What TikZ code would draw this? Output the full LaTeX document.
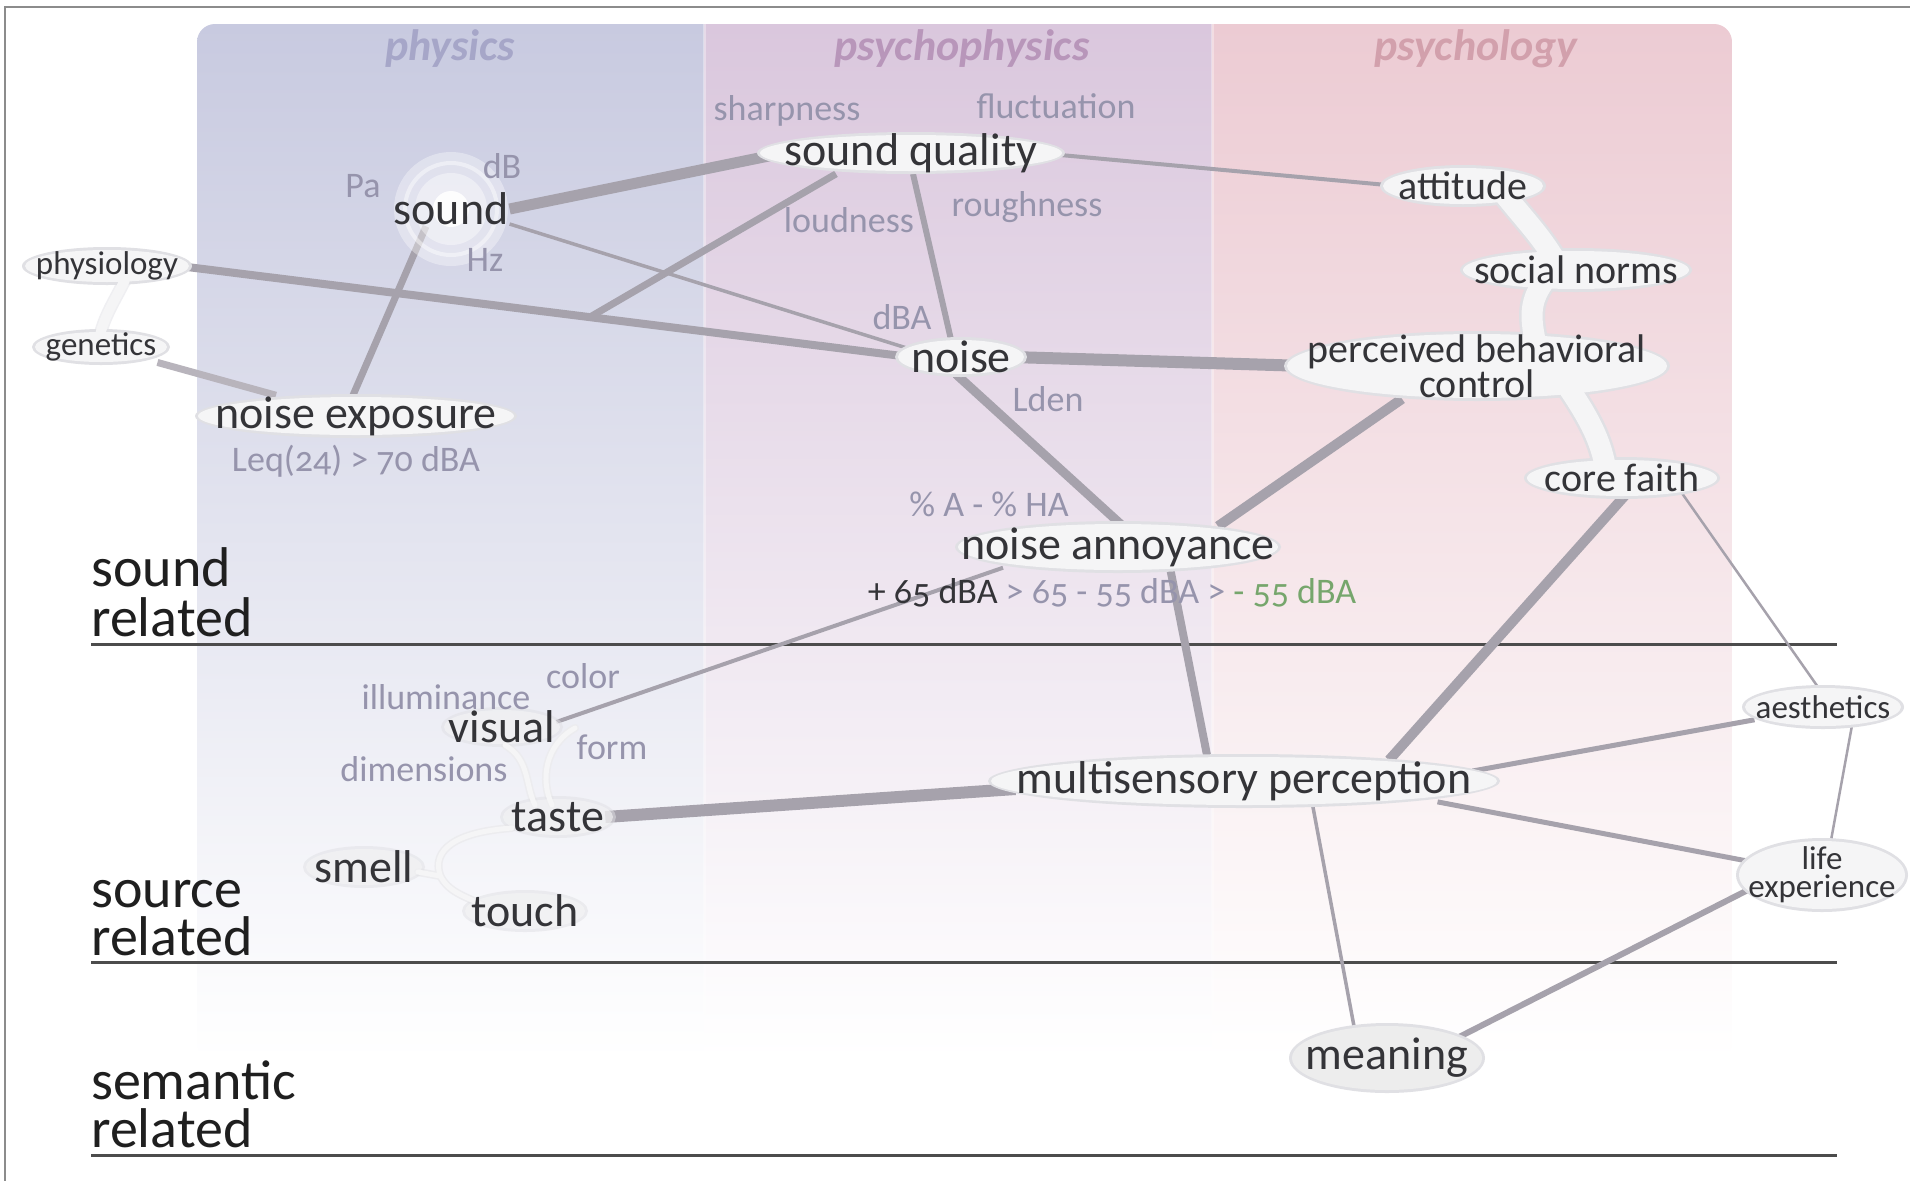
\documentclass[tikz,border=0pt]{standalone}
\usepackage{fontspec}
\setmainfont{Carlito}[Numbers=OldStyle]
\pgfdeclarelayer{bg}
\pgfdeclarelayer{edges}
\pgfdeclarelayer{bubbles}
\pgfsetlayers{bg,edges,bubbles,main}
\definecolor{txt}{RGB}{52,52,56}
\definecolor{labc}{RGB}{150,148,172}
\definecolor{edgec}{RGB}{166,162,172}
\definecolor{edgel}{RGB}{184,180,188}
\definecolor{bubf}{RGB}{245,245,246}
\definecolor{shad}{RGB}{224,224,228}
\definecolor{ttlA}{RGB}{166,166,200}
\definecolor{ttlB}{RGB}{184,150,186}
\definecolor{ttlC}{RGB}{210,160,172}
\definecolor{greenc}{RGB}{118,166,108}
\definecolor{phA}{RGB}{200,202,224}
\definecolor{phB}{RGB}{224,225,237}
\definecolor{ppA}{RGB}{218,199,221}
\definecolor{ppB}{RGB}{235,222,235}
\definecolor{psA}{RGB}{236,203,211}
\definecolor{psB}{RGB}{243,222,227}
\newcommand\myfs[2]{\fontsize{#1}{#2}\selectfont}
\newcommand\bubS[3]{\fill[shad] (#1.center) ellipse [x radius=#2pt+3pt, y radius=#3pt+3pt];}
\newcommand\bubF[3]{\fill[bubf] (#1.center) ellipse [x radius=#2pt, y radius=#3pt];}
\begin{document}
\begin{tikzpicture}[x=1pt,y=-1pt,
  big/.style={font=\myfs{46}{50}, text=txt, inner sep=1pt},
  mid/.style={font=\myfs{40}{30}, text=txt, inner sep=1pt},
  sml/.style={font=\myfs{33}{28}, text=txt, inner sep=1pt},
  lab/.style={font=\myfs{36}{40}, text=labc, inner sep=1pt},
  ttl/.style={font=\myfs{44}{48}\bfseries\itshape, inner sep=1pt},
  rowlab/.style={font=\myfs{56}{56}, text=black!88, anchor=base west, inner sep=0pt},
  link/.style={draw=edgec, line cap=butt},
  rulel/.style={draw=black!70, line width=3pt}]
\useasboundingbox (0,0) rectangle (1910,1181);
\begin{pgfonlayer}{bg}
  \fill[white] (0,0) rectangle (1910,1181);
  \draw[black!45, line width=2pt] (1910,7) -- (5,7) -- (5,1181);
  \begin{scope}
    \clip[rounded corners=18pt] (197,24) rectangle (1732,1060);
    \shade[top color=phA, middle color=phB, bottom color=white] (197,24) rectangle (704,1060);
    \shade[top color=ppA, middle color=ppB, bottom color=white] (704,24) rectangle (1212,1060);
    \shade[top color=psA, middle color=psB, bottom color=white] (1212,24) rectangle (1732,1060);
    \draw[white, opacity=.35, line width=3pt] (704,24) -- (704,1060);
    \draw[white, opacity=.35, line width=3pt] (1212,24) -- (1212,1060);
  \end{scope}
  \draw[rulel] (91,644) -- (1837,644);
  \draw[rulel] (91,962) -- (1837,962);
  \draw[rulel] (91,1155) -- (1837,1155);
\end{pgfonlayer}

% titles
\node[ttl, text=ttlA] (t1) at (450,49) {physics};
\node[ttl, text=ttlB] (t2) at (962,49) {psychophysics};
\node[ttl, text=ttlC] (t3) at (1476,49) {psychology};

% row labels
\node[rowlab] (r1a) at (91,586) {sound};
\node[rowlab] (r1b) at (91,636) {related};
\node[rowlab] (r2a) at (91,907) {source};
\node[rowlab] (r2b) at (91,955) {related};
\node[rowlab] (r3a) at (91,1099) {semantic};
\node[rowlab] (r3b) at (91,1147) {related};

% nodes
\node[big] (snd) at (451,209) {sound};
\node[lab] (pa) at (363,186) {Pa};
\node[lab] (db) at (502,166) {dB};
\node[lab] (hz) at (485,260) {Hz};
\node[big] (sq) at (911,153) {sound quality};
\node[lab] (shp) at (787,111) {sharpness};
\node[lab] (flu) at (1056,106) {fluctuation};
\node[lab] (loud) at (849,220) {loudness};
\node[lab] (rough) at (1027,207) {roughness};
\node[sml] (phys) at (107,266) {physiology};
\node[sml] (gen) at (101,347) {genetics};
\node[big] (nexp) at (356,416) {noise exposure};
\node[lab] (leq) at (356,461) {Leq(24) > 70 dBA};
\node[lab] (dba) at (902,317) {dBA};
\node[big] (noise) at (961,357) {noise};
\node[lab] (lden) at (1048,399) {Lden};
\node[mid] (att) at (1463,186) {attitude};
\node[mid] (soc) at (1576,270) {social norms};
\node[mid, align=center] (pbc) at (1477,366) {perceived behavioral\\control};
\node[mid] (cf) at (1622,478) {core faith};
\node[lab] (pct) at (989,504) {\% A - \% HA};
\node[big] (na) at (1118,547) {noise annoyance};
\node[lab] (lev) at (1112,593) {{\color{txt}+ 65 dBA} > 65 - 55 dBA > {\color{greenc}- 55 dBA}};
\node[lab] (color) at (583,676) {color};
\node[lab] (illum) at (446,697) {illuminance};
\node[big] (vis) at (502,727) {visual};
\node[lab] (form) at (612,747) {form};
\node[lab] (dim) at (424,769) {dimensions};
\node[big] (taste) at (558,817) {taste};
\node[big] (smell) at (364,867) {smell};
\node[big] (touch) at (525,911) {touch};
\node[big] (msp) at (1244,781) {multisensory perception};
\node[sml] (aes) at (1823,707) {aesthetics};
\node[sml, align=center] (life) at (1822,875) {life\\experience};
\node[big] (mean) at (1387,1058) {meaning};

% connectors
\begin{pgfonlayer}{edges}
  \path (phys.east) -- (noise.west) coordinate[pos=0.562] (J);
  \draw[link, line width=11pt] (snd.east) -- (sq.west);
  \draw[link, line width=7pt] ([xshift=-75pt]sq.south) -- (J);
  \draw[link, line width=8pt] (phys.east) -- (noise.west);
  \draw[link, line width=3.5pt] ([yshift=-15pt]snd.east) -- ([yshift=8pt]noise.west);
  \draw[link, line width=7pt] ([xshift=-25pt]snd.south) -- ([xshift=-3pt]nexp.north);
  \draw[draw=edgel, line width=7pt] (gen.south east) -- ([xshift=-80pt]nexp.north);
  \draw[link, line width=6pt] ([xshift=2pt]sq.south) -- ([xshift=-10pt]noise.north);
  \draw[link, line width=4pt] (sq.east) -- (att.west);
  \draw[link, line width=12pt] (noise.east) -- (pbc.west);
  \draw[link, line width=9pt] ([xshift=-5pt]noise.south) -- ([xshift=5pt]na.north);
  \draw[link, line width=10pt] ([xshift=-75pt]pbc.south) -- ([xshift=100pt]na.north);
  \draw[link, line width=4pt] ([xshift=-115pt]na.south) -- ([yshift=5pt]vis.east);
  \draw[link, line width=8pt] ([xshift=52pt]na.south) -- ([xshift=-36pt]msp.north);
  \draw[link, line width=10pt] ([xshift=5pt]cf.south) -- ([xshift=145pt]msp.north);
  \draw[link, line width=2.5pt] ([xshift=60pt]cf.south) -- (aes.north);
  \draw[link, line width=12pt] (taste.east) -- ([yshift=-8pt]msp.west);
  \draw[link, line width=5pt] ([yshift=10pt]msp.east) -- (aes.south west);
  \draw[link, line width=5pt] ([xshift=-35pt]msp.south east) -- ([yshift=14pt]life.west);
  \draw[link, line width=2.5pt] ([xshift=30pt]aes.south) -- ([xshift=8pt]life.north);
  \draw[link, line width=3.5pt] ([xshift=68pt]msp.south) -- ([xshift=-31pt]mean.north);
  \draw[link, line width=6pt] ([yshift=14pt]life.south west) -- ([xshift=72pt]mean.north);
\end{pgfonlayer}

% bubbles and blobs
\begin{pgfonlayer}{bubbles}
  % sound glow
  \fill[white, opacity=.35] (snd.center) circle [radius=57pt];
  \draw[white, opacity=.45, line width=4pt] (snd.center) circle [radius=46pt];
  \fill[white, opacity=.4] (snd.center) circle [radius=36pt];
  \fill[white, opacity=.9] (snd.center) circle [radius=18pt];
  % shadows
  \begin{scope}[draw=shad, line cap=round]
    \draw[line width=26pt] (1505,195) .. controls (1525,220) and (1540,235) .. (1555,260);
    \draw[line width=26pt] (1545,280) .. controls (1530,300) and (1530,315) .. (1535,340);
    \draw[line width=26pt] (1570,390) .. controls (1590,420) and (1600,440) .. (1605,465);
    \draw[line width=8pt, draw=shad!60] (505,745) .. controls (530,760) and (525,785) .. (535,805);
    \draw[line width=8pt, draw=shad!60] (575,728) .. controls (545,745) and (540,780) .. (552,805);
    \draw[line width=8pt, draw=shad!60] (512,828) .. controls (455,832) and (432,850) .. (440,875) .. controls (448,893) and (468,897) .. (482,905);
    \draw[line width=8pt, draw=shad!60] (418,872) -- (440,876);
    \draw[line width=13pt, draw=shad!50] (125,280) .. controls (115,300) and (105,315) .. (100,335);
  \end{scope}
  \bubS{sq}{151}{18}
  \bubS{noise}{63}{17}
  \bubS{nexp}{158}{19}
  \bubS{na}{160}{23}
  \bubS{msp}{253}{24}
  \bubS{mean}{95}{32}
  \bubS{att}{80}{18}
  \bubS{soc}{113}{19}
  \bubS{pbc}{190}{32}
  \bubS{cf}{95}{18}
  \bubS{phys}{82}{16}
  \bubS{gen}{66}{15}
  \bubS{aes}{78}{19}
  \bubS{life}{83}{34}
  \begin{scope}[opacity=.5]
    \bubS{vis}{58}{17}
    \bubS{taste}{55}{18}
    \bubS{smell}{58}{18}
    \bubS{touch}{60}{18}
  \end{scope}
  % fills
  \begin{scope}[draw=bubf, line cap=round]
    \draw[line width=21pt] (1505,195) .. controls (1525,220) and (1540,235) .. (1555,260);
    \draw[line width=21pt] (1545,280) .. controls (1530,300) and (1530,315) .. (1535,340);
    \draw[line width=21pt] (1570,390) .. controls (1590,420) and (1600,440) .. (1605,465);
    \draw[line width=5pt] (505,745) .. controls (530,760) and (525,785) .. (535,805);
    \draw[line width=5pt] (575,728) .. controls (545,745) and (540,780) .. (552,805);
    \draw[line width=5pt] (512,828) .. controls (455,832) and (432,850) .. (440,875) .. controls (448,893) and (468,897) .. (482,905);
    \draw[line width=5pt] (418,872) -- (440,876);
    \draw[line width=10pt] (125,280) .. controls (115,300) and (105,315) .. (100,335);
  \end{scope}
  \bubF{sq}{151}{18}
  \bubF{noise}{63}{17}
  \bubF{nexp}{158}{19}
  \bubF{na}{160}{23}
  \bubF{msp}{253}{24}
  \fill[black!7] (mean.center) ellipse [x radius=95pt, y radius=32pt];
  \bubF{att}{80}{18}
  \bubF{soc}{113}{19}
  \bubF{pbc}{190}{32}
  \bubF{cf}{95}{18}
  \bubF{phys}{82}{16}
  \bubF{gen}{66}{15}
  \bubF{aes}{78}{19}
  \bubF{life}{83}{34}
  \begin{scope}[opacity=.6]
    \bubF{vis}{58}{17}
    \bubF{taste}{55}{18}
    \bubF{smell}{58}{18}
    \bubF{touch}{60}{18}
  \end{scope}
\end{pgfonlayer}
\end{tikzpicture}
\end{document}
